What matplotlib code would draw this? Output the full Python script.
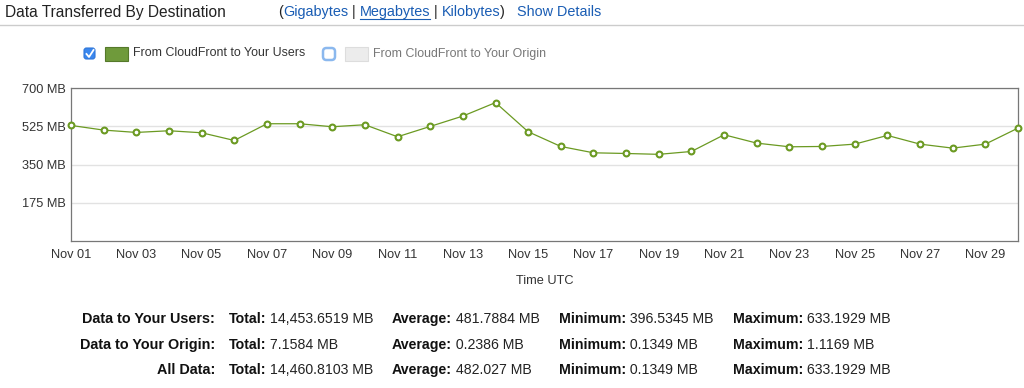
import matplotlib
matplotlib.use("Agg")
import matplotlib.pyplot as plt
from matplotlib.patches import FancyBboxPatch, Rectangle
from matplotlib.lines import Line2D

plt.rcParams['font.family'] = ['Liberation Sans', 'DejaVu Sans']

# daily MB from CloudFront to users, Nov 01 .. Nov 30
days = list(range(1, 31))
users_mb = [528.8, 507.4, 496.7, 504.4, 495.2, 460.0, 536.5, 536.5, 522.7, 531.9,
            476.9, 524.2, 571.6, 633.2, 499.8, 432.5, 403.5, 400.4, 396.5, 409.6,
            486.0, 447.8, 431.0, 432.5, 443.2, 483.0, 443.2, 424.9, 443.2, 516.6]
y_ticks = [175, 350, 525, 700]
x_ticks = list(range(1, 31, 2))

stat_rows = ["Data to Your Users:", "Data to Your Origin:", "All Data:"]
stat_totals = ["14,453.6519 MB", "7.1584 MB", "14,460.8103 MB"]
stat_avgs = ["481.7884 MB", "0.2386 MB", "482.027 MB"]
stat_mins = ["396.5345 MB", "0.1349 MB", "0.1349 MB"]
stat_maxs = ["633.1929 MB", "1.1169 MB", "633.1929 MB"]

W, H = 1024, 388
fig = plt.figure(figsize=(W / 100, H / 100), dpi=100)

green = '#6b9a22'
link = '#1a5db4'
dark = '#222222'

# overlay axes in pixel coords (y down) for header, legend and table
bax = fig.add_axes([0, 0, 1, 1], facecolor='none', zorder=5)
bax.set_axis_off()
bax.set_xlim(0, W)
bax.set_ylim(H, 0)

# header
bax.text(5, 12, "Data Transferred By Destination", fontsize=11.2, color=dark,
         va='center', ha='left')
header_parts = [("(", dark), ("Gigabytes", link), (" | ", dark), ("Megabytes", link),
                (" | ", dark), ("Kilobytes", link), (")", dark), ("   Show Details", link)]
prev = None
underline = None
for txt, col in header_parts:
    if prev is None:
        prev = bax.text(278, 12, txt, fontsize=10.4, color=col, va='center', ha='left')
    else:
        prev = bax.annotate(txt, xy=(1, 0.5), xycoords=prev, va='center', ha='left',
                            fontsize=10.4, color=col)
    if txt == "Megabytes":
        underline = prev
fig.canvas.draw()
bb = underline.get_window_extent(fig.canvas.get_renderer())
bax.plot([bb.x0, bb.x1], [18.5, 18.5], color=link, lw=0.8)
bax.plot([0, W], [25, 25], color='#cccccc', lw=1)

# legend
bax.add_patch(FancyBboxPatch((84, 48), 11, 11, boxstyle="round,pad=0,rounding_size=2.5",
                             fc='#3a87ee', ec='#2f76d8', lw=0.8))
bax.plot([86.5, 89, 93.5], [54, 57, 50], color='white', lw=1.3)
bax.add_patch(Rectangle((105, 47), 23, 14, fc='#6f9a3b', ec='#55792a', lw=0.8))
bax.text(133, 53.5, "From CloudFront to Your Users", fontsize=8.9, color='#333333',
         va='center')
bax.add_patch(FancyBboxPatch((323, 48), 12, 12, boxstyle="round,pad=0,rounding_size=3.5",
                             fc='white', ec='#8bb8ee', lw=1.8))
bax.add_patch(Rectangle((345, 47), 23, 14, fc='#ececec', ec='#dddddd', lw=0.8))
bax.text(373, 53.5, "From CloudFront to Your Origin", fontsize=8.9, color='#777777',
         va='center')

# chart
ax = fig.add_axes([71 / W, 1 - 241 / H, (1018 - 71) / W, (241 - 88) / H])
ax.plot(days, users_mb, color=green, lw=0.9, marker='o', ms=4.2, mfc='white',
        mec=green, mew=1.5, clip_on=False, zorder=3)
ax.set_xlim(1, 30)
ax.set_ylim(0, 700)
ax.set_yticks(y_ticks)
ax.set_yticklabels([f"{v} MB" for v in y_ticks])
ax.set_xticks(x_ticks)
ax.set_xticklabels([f"Nov {d:02d}" for d in x_ticks])
ax.grid(axis='y', color='#e2e2e2', lw=1)
ax.set_axisbelow(True)
ax.tick_params(length=0, labelsize=9.2, colors='#333333')
ax.tick_params(axis='x', pad=6)
ax.tick_params(axis='y', pad=4)
for s in ax.spines.values():
    s.set_color('#777777')
    s.set_linewidth(0.9)
ax.set_xlabel("Time UTC", fontsize=9.2, color='#333333', labelpad=10)

# stats table
row_y = [319, 345, 370]
cols = [(229, "Total:", stat_totals), (392, "Average:", stat_avgs),
        (559, "Minimum:", stat_mins), (733, "Maximum:", stat_maxs)]
for i, lab in enumerate(stat_rows):
    bax.text(215, row_y[i], lab, fontsize=10.4, fontweight='bold', ha='right', va='center',
             color='#111111')
    for cx, key, vals in cols:
        k = bax.text(cx, row_y[i], key, fontsize=10.2, fontweight='bold', ha='left',
                     va='center', color='#111111')
        bax.annotate(" " + vals[i], xy=(1, 0.5), xycoords=k, va='center', ha='left',
                     fontsize=10.2, color='#222222')

fig.savefig("out.png", dpi=100)
